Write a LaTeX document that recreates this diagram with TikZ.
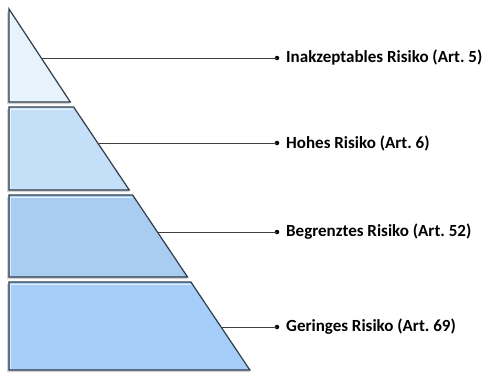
\documentclass[tikz,border=0pt]{standalone}
\usepackage{fontspec}
\setmainfont{Carlito}
\definecolor{edge}{HTML}{2E3C4C}
\definecolor{lvlA}{HTML}{E6F3FD}
\definecolor{lvlB}{HTML}{C4DFF8}
\definecolor{lvlC}{HTML}{A9CDF1}
\definecolor{lvlD}{HTML}{A6CEF9}
\definecolor{conn}{HTML}{404040}
\tikzset{
  x=1pt,y=-1pt,
  tier/.style={draw=edge,line width=1.2pt,line join=miter},
  tiershadow/.style={fill=black!35,opacity=0.5},
  conline/.style={draw=conn,line width=0.9pt},
  lbl/.style={anchor=west,inner sep=0pt,font=\bfseries\fontsize{17}{20}\selectfont,text=black},
  dotnode/.style={circle,fill=black,inner sep=0pt,minimum size=4.5pt}
}
\newcommand{\hx}[1]{8+0.67*(#1-9)}
\begin{document}
\begin{tikzpicture}
\useasboundingbox (0,0) rectangle (487,372);
% shadows
\fill[tiershadow] (7,11) -- (7,104) -- ({\hx{102}},104) -- cycle;
\fill[tiershadow] (7,109) -- (7,192) -- ({\hx{190}},192) -- ({\hx{107}},109) -- cycle;
\fill[tiershadow] (7,197) -- (7,279) -- ({\hx{277}},279) -- ({\hx{195}},197) -- cycle;
\fill[tiershadow] (7,284) -- (7,372) -- ({\hx{370}},372) -- ({\hx{282}},284) -- cycle;
% tiers
\path[tier,fill=lvlA] (9,9) coordinate (apex) -- (9,102) -- ({\hx{102}},102) -- cycle;
\path[tier,fill=lvlB] (9,107) -- (9,190) -- ({\hx{190}},190) -- ({\hx{107}},107) -- cycle;
\path[tier,fill=lvlC] (9,195) -- (9,277) -- ({\hx{277}},277) -- ({\hx{195}},195) -- cycle;
\path[tier,fill=lvlD] (9,282) -- (9,370) -- ({\hx{370}},370) -- ({\hx{282}},282) -- cycle;
% highlights
\draw[white,opacity=0.7,line width=1pt] (11,109.5) -- ({\hx{109.5}-2},109.5);
\draw[white,opacity=0.7,line width=1pt] (11,197.5) -- ({\hx{197.5}-2},197.5);
\draw[white,opacity=0.7,line width=1pt] (11,284.5) -- ({\hx{284.5}-2},284.5);
\draw[white,opacity=0.6,line width=1pt] (10.5,14) -- (10.5,100.5);
\draw[white,opacity=0.6,line width=1pt] (10.5,109) -- (10.5,188.5);
\draw[white,opacity=0.6,line width=1pt] (10.5,197) -- (10.5,275.5);
\draw[white,opacity=0.6,line width=1pt] (10.5,284) -- (10.5,368.5);
% connector start points on hypotenuse
\coordinate (s1) at ({\hx{58}},58);
\coordinate (s2) at ({\hx{143}},143);
\coordinate (s3) at ({\hx{232}},232);
\coordinate (s4) at ({\hx{327}},327);
\node[dotnode] (d1) at (277,58) {};
\node[dotnode] (d2) at (277,143) {};
\node[dotnode] (d3) at (277,232) {};
\node[dotnode] (d4) at (277,327) {};
\node[lbl] (t1) at (286,58) {Inakzeptables Risiko (Art.~5)};
\node[lbl] (t2) at (286,143) {Hohes Risiko (Art.~6)};
\node[lbl] (t3) at (286,232) {Begrenztes Risiko (Art.~52)};
\node[lbl] (t4) at (286,327) {Geringes Risiko (Art.~69)};
\draw[conline] (s1) -- (d1.center);
\draw[conline] (s2) -- (d2.center);
\draw[conline] (s3) -- (d3.center);
\draw[conline] (s4) -- (d4.center);
\end{tikzpicture}
\end{document}
